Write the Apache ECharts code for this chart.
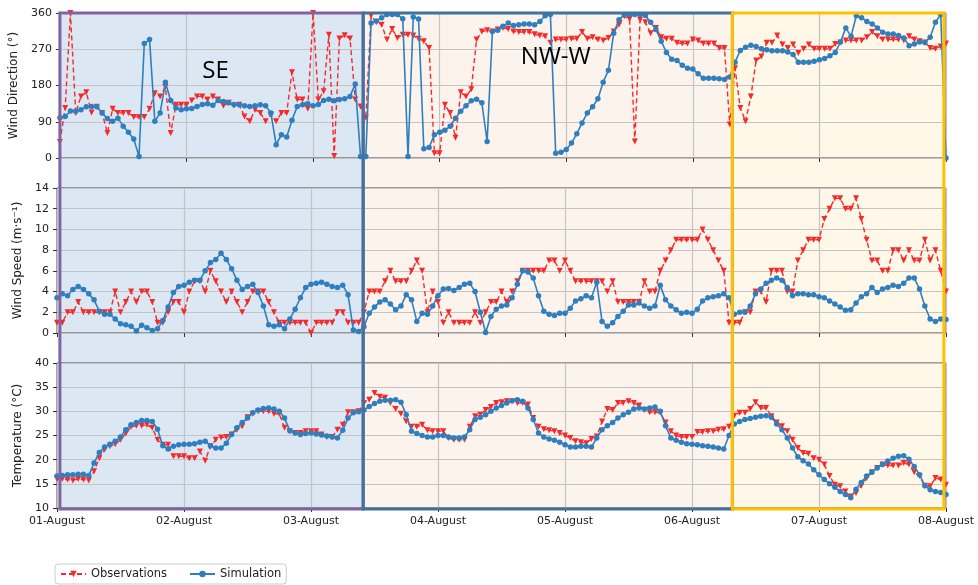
<!DOCTYPE html>
<html><head><meta charset="utf-8">
<script src="https://cdn.jsdelivr.net/npm/echarts@6/dist/echarts.min.js"></script>
<style>html,body{margin:0;padding:0;background:#fff}#c{width:978px;height:585px}</style>
</head><body><div id="c"></div>
<script>
// ---- data (hourly, 01-Aug 00:00 .. 08-Aug 00:00) ----
const dayLabels = ['01-August','02-August','03-August','04-August','05-August','06-August','07-August','08-August'];

const obsDir = [
40,124,360,112,153,163,113,127,112,62,
122,112,112,112,102,102,102,122,161,153,
176,62,132,132,132,143,153,153,145,153,
145,130,137,130,132,103,91,120,112,91,
108,91,112,112,213,145,145,122,360,145,
166,306,5,297,305,297,145,128,100,353,
337,331,294,320,298,306,306,304,296,290,
273,12,12,132,112,50,163,153,171,294,
314,317,314,319,323,320,314,313,313,313,
307,304,302,286,294,294,294,296,296,313,
296,300,294,292,298,314,331,352,345,41,
343,337,310,323,300,296,296,286,284,284,
294,292,284,284,284,273,273,83,223,124,
91,153,242,252,286,286,304,282,273,282,
261,271,282,271,271,271,271,283,287,292,
292,292,292,300,313,302,294,294,294,294,
292,302,294,290,287,273,271,277,284];

const simDir = [
100,103,117,116,120,127,128,127,112,98,
91,99,79,64,47,4,284,294,91,112,
188,143,124,120,122,123,128,133,135,131,
143,140,137,133,132,130,128,130,132,130,
112,33,58,52,94,128,132,135,130,133,
143,146,142,145,147,153,184,4,4,335,
340,348,356,356,356,346,4,350,345,23,
26,58,64,69,79,99,116,130,142,146,
137,41,314,317,327,335,329,331,333,333,
331,339,353,356,12,14,21,37,60,87,
112,127,147,188,218,310,343,356,356,356,
356,354,337,319,290,262,245,242,230,223,
221,209,198,198,198,197,195,201,238,267,
275,280,277,271,269,266,266,266,263,257,
238,238,238,240,244,247,254,262,288,323,
302,353,348,339,333,323,312,308,308,304,
298,279,283,288,287,300,337,356,0];

const obsSpd = [
1,1,2,2,3,2,2,2,2,2,
2,4,2,3,4,3,4,4,3,1,
1,2,3,3,2,4,5,5,4,6,
5,4,3,4,3,2,3,4,4,4,
3,2,1,1,1,1,1,1,0,1,
1,1,1,2,2,1,1,1,2,4,
4,4,5,6,5,5,5,6,7,6,
2,4,3,1,2,1,1,1,1,2,
1,2,3,3,4,3,4,5,6,6,
6,6,6,7,7,6,7,6,5,5,
5,5,5,5,4,5,3,3,3,3,
3,5,4,4,6,7,8,9,9,9,
9,9,10,9,8,7,6,1,1,1,
2,2,4,4,3,6,6,6,4,4,
7,8,9,9,9,11,12,13,13,12,
12,13,11,9,7,7,6,6,8,8,
7,8,7,7,9,7,8,6,4];

const simSpd = [
3.4,3.8,3.6,4.2,4.5,4.2,3.8,3.2,2.1,1.8,
1.8,1.35,0.9,0.8,0.65,0.2,0.75,0.5,0.25,0.4,
1.2,2.5,3.9,4.5,4.6,4.9,5.1,5.1,6.0,6.8,
7.1,7.7,7.1,6.2,5.1,4.2,4.5,4.7,3.9,2.6,
0.8,0.65,0.8,0.4,1.35,2.3,3.4,4.4,4.7,4.8,
4.9,4.7,4.5,4.4,4.6,3.7,0.3,0.15,0.6,1.9,
2.5,3.0,3.2,2.8,2.25,2.6,3.7,3.2,1.1,1.9,
1.8,2.6,3.6,4.25,4.3,4.1,4.4,4.7,4.8,4.0,
2.0,0.05,1.6,2.3,2.6,2.7,3.4,4.7,6.0,5.9,
5.3,3.6,2.1,1.8,1.7,1.9,1.9,2.4,3.1,3.3,
3.6,3.4,4.9,1.1,0.65,1.0,1.6,2.1,2.7,2.7,
2.9,2.6,2.4,2.6,4.6,3.2,2.6,2.25,1.9,2.0,
1.9,2.3,3.1,3.4,3.5,3.6,3.8,3.4,1.8,2.0,
2.0,2.6,3.8,4.25,4.8,5.1,5.3,5.1,4.4,3.6,
3.8,3.8,3.7,3.7,3.5,3.4,3.1,2.8,2.5,2.2,
2.25,2.9,3.5,3.8,4.4,3.9,4.25,4.4,4.6,4.5,
4.8,5.3,5.3,4.25,2.6,1.35,1.1,1.35,1.3];

const obsTemp = [
16.0,16.0,15.9,15.7,16.0,15.9,15.7,17.6,20.3,22.1,
22.8,23.2,24.1,25.4,26.8,27.0,27.0,27.2,26.6,24.1,
23.1,23.1,20.7,20.7,20.7,20.3,20.3,21.7,19.8,22.8,
24.1,24.6,24.7,25.2,26.2,26.9,28.8,29.5,30.0,30.0,
30.0,29.5,29.5,26.6,25.9,25.5,25.5,25.9,25.9,25.9,
25.2,24.7,24.7,26.2,27.2,29.8,29.8,30.0,31.7,32.4,
33.8,33.0,32.8,31.7,30.5,29.5,27.9,26.8,26.8,27.2,
26.1,25.9,25.9,25.9,24.5,24.1,24.1,24.1,26.8,29.0,
29.3,30.3,30.9,31.7,31.9,32.1,32.1,31.7,31.7,31.4,
28.6,26.8,26.3,26.1,25.9,25.5,25.0,24.5,23.8,23.6,
23.4,24.3,24.8,27.9,30.5,30.3,31.7,31.7,32.1,31.7,
31.2,30.3,29.8,29.8,29.7,27.7,25.9,25.0,24.7,24.7,
24.7,25.7,25.7,25.9,25.9,26.2,26.3,26.8,29.1,29.7,
29.7,30.5,31.9,30.7,30.7,29.0,27.7,26.9,25.9,24.1,
22.4,21.4,21.2,20.3,20.0,19.0,16.6,14.8,14.5,13.4,
12.4,13.1,14.6,16.2,17.4,18.3,19.0,18.8,18.8,18.8,
19.3,19.0,17.4,16.6,14.6,14.5,16.2,15.9,14.8];

const simTemp = [
16.6,16.7,16.9,16.9,17.0,17.0,16.7,19.3,21.5,22.6,
23.2,23.8,24.7,26.2,27.2,27.7,28.1,28.1,27.9,26.3,
22.9,22.2,22.8,23.1,23.2,23.2,23.3,23.6,23.8,22.9,
22.4,22.4,23.4,25.2,26.6,27.7,28.6,29.7,30.3,30.6,
30.7,30.5,30.0,28.6,26.0,25.5,25.2,25.4,25.5,25.3,
25.1,24.9,24.7,24.5,26.1,28.6,29.7,29.9,30.3,31.0,
31.6,32.1,32.3,32.3,32.4,31.9,29.3,25.9,25.4,25.0,
24.7,24.7,25.0,25.0,24.7,24.5,24.5,24.7,26.2,28.3,
28.8,29.3,30.0,30.7,31.2,31.7,32.2,32.4,32.1,30.7,
28.3,25.5,24.7,24.3,24.0,23.6,23.1,22.6,22.6,22.8,
22.8,22.6,24.5,26.2,27.0,27.7,28.6,29.3,29.8,30.5,
30.7,30.5,30.7,30.9,30.0,27.0,24.5,24.0,23.6,23.3,
23.2,23.1,22.9,22.8,22.6,22.4,22.2,25.0,27.4,27.9,
28.3,28.5,28.8,29.0,29.1,28.8,27.4,26.2,24.5,22.4,
20.6,19.8,19.1,17.9,16.9,15.9,15.0,14.3,13.4,12.8,
12.1,13.9,15.3,16.6,17.4,18.3,19.0,19.7,20.3,20.7,
20.8,20.1,18.6,16.9,14.6,13.8,13.4,13.2,12.8];

// regime periods (hours from 01-Aug 00:00)
const regionStart = [0, 57.5, 127.5];
const regionEnd   = [57.5, 127.5, 167.6];
const regionLabelText  = ['SE', 'NW-W'];
const regionLabelHour  = [29.5, 94];
const regionLabelValue = [216, 251];

// ---- styles ----
const FONT = 'DejaVu Sans';
const regionFill   = ['#dce7f4', '#fcf3ed', '#fff8e8'];
const regionStroke = ['#8064a2', '#41719c', '#ffc000'];
const RED = '#f52a2a', BLUE = '#2f7fbf';

const pairs = arr => arr.map((v, i) => [i, v]);

const grids = [13, 188, 363].map(t => ({left: 57, right: 32, top: t, height: 145,
  show: true, borderColor: '#444', borderWidth: 1, backgroundColor: 'transparent'}));

const xAxes = [0, 1, 2].map(i => ({
  type: 'value', gridIndex: i, min: 0, max: 168, interval: 24,
  axisLine: {show: false},
  axisTick: {show: true, length: 4, lineStyle: {color: '#333'}},
  axisLabel: {show: i === 2, margin: 8, fontSize: 11, color: '#222', fontFamily: FONT,
    formatter: v => dayLabels[Math.round(v / 24)]},
  splitLine: {show: true, lineStyle: {color: '#c4c4c4', width: 1.2}}
}));

const yCfg = [
  {min: 0, max: 360, interval: 90, name: 'Wind Direction (°)'},
  {min: 0, max: 14, interval: 2, name: 'Wind Speed (m·s⁻¹)'},
  {min: 10, max: 40, interval: 5, name: 'Temperature (°C)'}
];
const yAxes = yCfg.map((c, i) => ({
  type: 'value', gridIndex: i, min: c.min, max: c.max, interval: c.interval,
  name: c.name, nameLocation: 'middle', nameGap: 32,
  nameTextStyle: {fontSize: 12, color: '#222', fontFamily: FONT},
  axisLine: {show: false},
  axisTick: {show: true, length: 4, lineStyle: {color: '#333'}},
  axisLabel: {fontSize: 11, color: '#222', margin: 8, fontFamily: FONT},
  splitLine: {show: true, lineStyle: {color: '#c4c4c4', width: 1.2}}
}));

const obsSets = [obsDir, obsSpd, obsTemp];
const simSets = [simDir, simSpd, simTemp];
const series = [];
for (let i = 0; i < 3; i++) {
  series.push({
    name: 'Observations', type: 'line', xAxisIndex: i, yAxisIndex: i, data: pairs(obsSets[i]),
    symbol: 'triangle', symbolRotate: 180, symbolSize: [6, 6], showAllSymbol: true,
    lineStyle: {color: RED, width: 1.4, type: [5, 3]}, itemStyle: {color: RED}, z: 3
  });
}
for (let i = 0; i < 3; i++) {
  series.push({
    name: 'Simulation', type: 'line', xAxisIndex: i, yAxisIndex: i, data: pairs(simSets[i]),
    symbol: 'circle', symbolSize: 5.5, showAllSymbol: true,
    lineStyle: {color: BLUE, width: 1.6}, itemStyle: {color: BLUE}, z: 4
  });
}

const chart = echarts.init(document.getElementById('c'), null, {renderer: 'canvas'});
chart.setOption({
  animation: false,
  backgroundColor: '#fff',
  grid: grids, xAxis: xAxes, yAxis: yAxes, series: series,
  legend: {
    data: ['Observations', 'Simulation'], left: 55, top: 564,
    itemWidth: 25, itemHeight: 8, itemGap: 22,
    padding: [4, 5, 4, 5], borderColor: '#cccccc', borderWidth: 1, borderRadius: 3,
    textStyle: {fontSize: 11.5, color: '#222', fontFamily: FONT}
  }
});

// regime boxes spanning all three panels, placed via axis scales
const yTop = chart.convertToPixel({yAxisIndex: 0}, 360);
const yBot = chart.convertToPixel({yAxisIndex: 2}, 10) + 1;
const els = [];
regionStart.forEach((s, i) => {
  const x0 = chart.convertToPixel({xAxisIndex: 0}, s);
  const x1 = chart.convertToPixel({xAxisIndex: 0}, regionEnd[i]);
  const shape = {x: x0, y: yTop, width: x1 - x0, height: yBot - yTop};
  els.push({type: 'rect', z: -10, silent: true, shape: shape, style: {fill: regionFill[i]}});
  els.push({type: 'rect', z: 50 + i, silent: true, shape: shape,
    style: {fill: null, stroke: regionStroke[i], lineWidth: 3}});
});
regionLabelText.forEach((t, i) => {
  const p = chart.convertToPixel({xAxisIndex: 0, yAxisIndex: 0}, [regionLabelHour[i], regionLabelValue[i]]);
  els.push({type: 'text', z: 60, silent: true, x: p[0], y: p[1],
    style: {text: t, fill: '#000', font: '24px "Open Sans"', textAlign: 'center', textVerticalAlign: 'middle'}});
});
chart.setOption({graphic: els});
</script>
</body></html>
